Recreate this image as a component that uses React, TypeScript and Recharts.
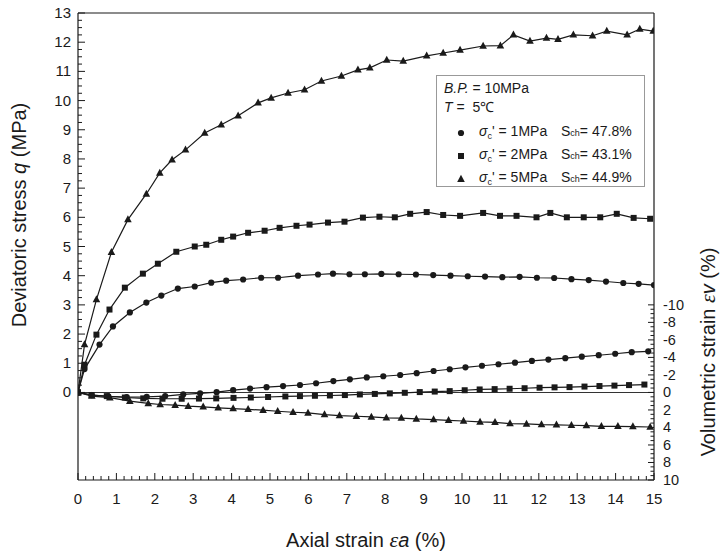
import React from 'react';
import { LineChart, Line, XAxis, YAxis, ReferenceLine } from 'recharts';

// ---- tick labels ----
const xMajorTicks = [0, 1, 2, 3, 4, 5, 6, 7, 8, 9, 10, 11, 12, 13, 14, 15];
const qMajorTicks = [0, 1, 2, 3, 4, 5, 6, 7, 8, 9, 10, 11, 12, 13];
const vMajorTicks = [-10, -8, -6, -4, -2, 0, 2, 4, 6, 8, 10];

// ---- deviatoric stress q (MPa) vs axial strain (%) ----
const q1MPa: [number, number][] = [
  [0, 0], [0.17, 0.8], [0.56, 1.64], [0.91, 2.26], [1.35, 2.74], [1.78, 3.08], [2.17, 3.32],
  [2.6, 3.56], [3.04, 3.63], [3.47, 3.76], [3.86, 3.83], [4.3, 3.87], [4.77, 3.93], [5.21, 3.93],
  [5.73, 4.0], [6.25, 4.04], [6.64, 4.07], [7.07, 4.05], [7.47, 4.05], [7.9, 4.06], [8.35, 4.05],
  [8.8, 4.04], [9.25, 4.02], [9.7, 4.0], [10.15, 3.98], [10.6, 3.97], [11.05, 3.95], [11.5, 3.96],
  [11.95, 3.93], [12.4, 3.92], [12.85, 3.88], [13.3, 3.85], [13.75, 3.8], [14.2, 3.75],
  [14.6, 3.72], [15.0, 3.68],
];
const q2MPa: [number, number][] = [
  [0, 0], [0.17, 0.95], [0.48, 1.98], [0.82, 2.84], [1.22, 3.59], [1.69, 4.07], [2.08, 4.41],
  [2.56, 4.82], [3.04, 5.0], [3.34, 5.06], [3.73, 5.23], [4.04, 5.34], [4.43, 5.47], [4.86, 5.54],
  [5.25, 5.64], [5.69, 5.71], [6.03, 5.75], [6.51, 5.82], [6.94, 5.85], [7.42, 5.99], [7.85, 6.02],
  [8.25, 6.0], [8.65, 6.12], [9.08, 6.18], [9.51, 6.08], [9.95, 6.05], [10.55, 6.15], [10.99, 6.05],
  [11.42, 6.05], [11.94, 6.0], [12.3, 6.15], [12.73, 6.0], [13.17, 6.0], [13.6, 6.0], [14.03, 6.12],
  [14.47, 5.98], [14.9, 5.95],
];
const q5MPa: [number, number][] = [
  [0, 0], [0.17, 1.64], [0.48, 3.18], [0.87, 4.8], [1.3, 5.92], [1.78, 6.8], [2.13, 7.52],
  [2.45, 7.97], [2.8, 8.31], [3.3, 8.89], [3.73, 9.17], [4.17, 9.48], [4.69, 9.92], [5.03, 10.09],
  [5.47, 10.26], [5.9, 10.37], [6.34, 10.67], [6.86, 10.84], [7.29, 11.05], [7.6, 11.12],
  [8.04, 11.39], [8.47, 11.35], [9.08, 11.53], [9.51, 11.63], [9.95, 11.73], [10.55, 11.87],
  [11.0, 11.88], [11.34, 12.25], [11.77, 12.04], [12.2, 12.14], [12.5, 12.1], [12.9, 12.25],
  [13.4, 12.22], [13.77, 12.38], [14.3, 12.25], [14.63, 12.45], [14.98, 12.38],
];

// ---- volumetric strain (%) vs axial strain (%) ----
const v1MPa: [number, number][] = [
  [0, 0], [0.36, 0.3], [0.79, 0.45], [1.27, 0.52], [1.79, 0.5], [2.27, 0.42], [2.74, 0.23],
  [3.18, 0.1], [3.61, -0.03], [4.04, -0.26], [4.48, -0.44], [4.91, -0.6], [5.34, -0.73],
  [5.78, -0.85], [6.2, -1.05], [6.65, -1.3], [7.08, -1.5], [7.52, -1.72], [7.95, -1.85],
  [8.39, -1.99], [8.82, -2.2], [9.26, -2.45], [9.68, -2.65], [10.09, -2.87], [10.52, -3.05],
  [10.95, -3.22], [11.38, -3.4], [11.82, -3.6], [12.25, -3.75], [12.69, -3.91], [13.12, -4.08],
  [13.56, -4.25], [13.99, -4.42], [14.42, -4.6], [14.85, -4.7],
];
const v2MPa: [number, number][] = [
  [0, 0], [0.35, 0.3], [0.75, 0.42], [1.22, 0.58], [1.7, 0.68], [2.2, 0.72], [2.7, 0.72],
  [3.15, 0.7], [3.6, 0.68], [4.05, 0.62], [4.5, 0.58], [4.95, 0.52], [5.4, 0.46], [5.78, 0.42],
  [6.17, 0.38], [6.56, 0.35], [6.95, 0.3], [7.34, 0.23], [7.73, 0.17], [8.12, 0.11], [8.51, 0.04],
  [8.9, -0.04], [9.29, -0.1], [9.68, -0.15], [10.07, -0.25], [10.46, -0.34], [10.85, -0.38],
  [11.24, -0.42], [11.63, -0.48], [12.02, -0.54], [12.41, -0.58], [12.8, -0.61], [13.19, -0.67],
  [13.58, -0.73], [13.97, -0.78], [14.35, -0.84], [14.75, -0.9],
];
const v5MPa: [number, number][] = [
  [0, 0], [0.36, 0.42], [0.83, 0.6], [1.35, 1.0], [1.83, 1.26], [2.14, 1.38], [2.53, 1.46],
  [2.87, 1.57], [3.26, 1.65], [3.65, 1.76], [4.04, 1.84], [4.43, 1.93], [4.82, 2.03], [5.2, 2.15],
  [5.6, 2.26], [5.99, 2.34], [6.42, 2.53], [6.81, 2.64], [7.25, 2.72], [7.64, 2.8], [8.03, 2.91],
  [8.42, 2.93], [8.81, 3.03], [9.26, 3.1], [9.65, 3.18], [10.04, 3.26], [10.47, 3.37], [10.86, 3.41],
  [11.25, 3.56], [11.68, 3.6], [12.07, 3.68], [12.46, 3.7], [12.85, 3.75], [13.24, 3.79],
  [13.63, 3.87], [14.06, 3.88], [14.45, 3.9], [14.9, 3.95],
];

const toPts = (arr: [number, number][]) => arr.map(([x, y]) => ({ x, y }));

const stepTicks = (lo: number, hi: number, step: number) => {
  const out: number[] = [];
  const n = Math.round((hi - lo) / step);
  for (let i = 0; i <= n; i++) out.push(Math.round((lo + i * step) * 1000) / 1000);
  return out;
};

const INK = '#1a1a1a';
const FONT = '"Liberation Sans", Arial, Helvetica, sans-serif';

const isIn = (list: number[], v: number) => list.some((t) => Math.abs(t - v) < 1e-6);

const BottomTick = (props: any) => {
  const { x, y, payload } = props;
  const v = payload.value;
  const major = isIn(xMajorTicks, v);
  return (
    <g>
      <line x1={x} x2={x} y1={y} y2={y - (major ? 7 : 4)} stroke={INK} strokeWidth={1} />
      {major && (
        <text x={x} y={y + 24} textAnchor="middle" fontSize={15} fontFamily={FONT} fill={INK}>
          {v}
        </text>
      )}
    </g>
  );
};

const LeftTick = (props: any) => {
  const { x, y, payload } = props;
  const v = payload.value;
  const major = isIn(qMajorTicks, v);
  return (
    <g>
      <line x1={x} x2={x + (major ? 7 : 4)} y1={y} y2={y} stroke={INK} strokeWidth={1} />
      {major && (
        <text x={x - 7} y={y + 5} textAnchor="end" fontSize={15} fontFamily={FONT} fill={INK}>
          {v}
        </text>
      )}
    </g>
  );
};

const RightTick = (props: any) => {
  const { x, y, payload } = props;
  const v = payload.value;
  const major = isIn(vMajorTicks, v);
  return (
    <g>
      <line x1={x} x2={x - (major ? 6 : 3.5)} y1={y} y2={y} stroke={INK} strokeWidth={1} />
      {major && (
        <text x={x + 9} y={y + 5} textAnchor="start" fontSize={14.5} fontFamily={FONT} fill={INK}>
          {v}
        </text>
      )}
    </g>
  );
};

const makeDot = (shape: 'circle' | 'square' | 'triangle') => (props: any) => {
  const { cx, cy, index } = props;
  if (cx == null || cy == null) return <g key={`n${index}`} />;
  if (shape === 'circle') return <circle key={`c${index}`} cx={cx} cy={cy} r={3.1} fill={INK} />;
  if (shape === 'square')
    return <rect key={`s${index}`} x={cx - 3} y={cy - 3} width={6} height={6} fill={INK} />;
  return (
    <polygon
      key={`t${index}`}
      points={`${cx},${cy - 4.3} ${cx - 3.8},${cy + 2.7} ${cx + 3.8},${cy + 2.7}`}
      fill={INK}
    />
  );
};

const LegendMarker = ({ shape }: { shape: 'circle' | 'square' | 'triangle' }) => (
  <svg width={10} height={10} style={{ position: 'absolute', left: 19, top: 6 }}>
    {shape === 'circle' && <circle cx={5} cy={5} r={3.1} fill={INK} />}
    {shape === 'square' && <rect x={2} y={2} width={6} height={6} fill={INK} />}
    {shape === 'triangle' && <polygon points="5,0.8 1.2,8 8.8,8" fill={INK} />}
  </svg>
);

const legendRows: { shape: 'circle' | 'square' | 'triangle'; s: string; sch: string }[] = [
  { shape: 'circle', s: '1MPa', sch: '47.8%' },
  { shape: 'square', s: '2MPa', sch: '43.1%' },
  { shape: 'triangle', s: '5MPa', sch: '44.9%' },
];

export default function App() {
  const lineProps = {
    xAxisId: 'x',
    dataKey: 'y',
    type: 'linear' as const,
    stroke: INK,
    strokeWidth: 1.2,
    isAnimationActive: false,
    activeDot: false as const,
  };
  const epsStyle = { fontFamily: '"Liberation Serif", "DejaVu Serif", serif', fontSize: 22 };
  return (
    <div
      style={{
        position: 'absolute',
        left: 0,
        top: 0,
        width: 723,
        height: 554,
        background: '#fff',
        fontFamily: FONT,
        color: INK,
      }}
    >
      <LineChart width={723} height={554} margin={{ top: 13, right: 9, bottom: 24, left: 38 }}>
        <XAxis
          xAxisId="x"
          dataKey="x"
          type="number"
          domain={[0, 15]}
          ticks={stepTicks(0, 15, 0.2)}
          interval={0}
          height={50}
          tickSize={0}
          tickMargin={0}
          tickLine={false}
          tick={<BottomTick />}
          axisLine={{ stroke: INK, strokeWidth: 1.2 }}
          allowDataOverflow
        />
        <YAxis
          yAxisId="q"
          orientation="left"
          type="number"
          domain={[-3, 13]}
          ticks={stepTicks(0, 13, 0.25)}
          interval={0}
          width={40}
          tickSize={0}
          tickMargin={0}
          tickLine={false}
          tick={<LeftTick />}
          axisLine={{ stroke: INK, strokeWidth: 1.2 }}
          allowDataOverflow
        />
        <YAxis
          yAxisId="v"
          orientation="right"
          type="number"
          reversed
          domain={[-43.333, 10]}
          ticks={stepTicks(-10, 10, 0.5)}
          interval={0}
          width={60}
          tickSize={0}
          tickMargin={0}
          tickLine={false}
          tick={<RightTick />}
          axisLine={{ stroke: INK, strokeWidth: 1.2 }}
          allowDataOverflow
        />
        <ReferenceLine xAxisId="x" yAxisId="q" y={13} stroke={INK} strokeWidth={1.2} />
        <ReferenceLine xAxisId="x" yAxisId="q" y={0} stroke="#333" strokeWidth={1.1} />

        <Line {...lineProps} yAxisId="q" data={toPts(q1MPa)} dot={makeDot('circle')} />
        <Line {...lineProps} yAxisId="q" data={toPts(q2MPa)} dot={makeDot('square')} />
        <Line {...lineProps} yAxisId="q" data={toPts(q5MPa)} dot={makeDot('triangle')} />
        <Line {...lineProps} yAxisId="v" data={toPts(v1MPa)} dot={makeDot('circle')} />
        <Line {...lineProps} yAxisId="v" data={toPts(v2MPa)} dot={makeDot('square')} />
        <Line {...lineProps} yAxisId="v" data={toPts(v5MPa)} dot={makeDot('triangle')} />
      </LineChart>

      {/* axis titles */}
      <div
        style={{
          position: 'absolute',
          left: 19,
          top: 215,
          transform: 'translate(-50%, -50%) rotate(-90deg)',
          whiteSpace: 'nowrap',
          fontSize: 20,
        }}
      >
        Deviatoric stress <i>q</i> (MPa)
      </div>
      <div
        style={{
          position: 'absolute',
          left: 708,
          top: 352,
          transform: 'translate(-50%, -50%) rotate(-90deg)',
          whiteSpace: 'nowrap',
          fontSize: 20,
        }}
      >
        Volumetric strain <i style={epsStyle}>ε</i>
        <i>v</i> (%)
      </div>
      <div
        style={{
          position: 'absolute',
          left: 366,
          top: 540,
          transform: 'translate(-50%, -50%)',
          whiteSpace: 'nowrap',
          fontSize: 20,
        }}
      >
        Axial strain <i style={epsStyle}>ε</i>
        <i>a</i> (%)
      </div>

      {/* legend box */}
      <div
        style={{
          position: 'absolute',
          left: 436,
          top: 75,
          width: 207,
          height: 110,
          border: '1.5px solid #999',
          background: '#fff',
          fontSize: 14,
          lineHeight: '17px',
        }}
      >
        <div style={{ position: 'absolute', left: 7, top: 4, whiteSpace: 'nowrap' }}>
          <i>B.P.</i> = 10MPa
        </div>
        <div style={{ position: 'absolute', left: 7, top: 23, whiteSpace: 'nowrap' }}>
          <i>T</i> = &nbsp;5℃
        </div>
        {legendRows.map((r, i) => (
          <div
            key={r.s}
            style={{ position: 'absolute', left: 0, top: 46 + i * 23, width: 207, height: 20 }}
          >
            <LegendMarker shape={r.shape} />
            <span style={{ position: 'absolute', left: 42, top: 1, whiteSpace: 'nowrap' }}>
              <i>σ</i>
              <span style={{ fontSize: 9, verticalAlign: -3 }}>c</span>' = {r.s}
            </span>
            <span style={{ position: 'absolute', left: 124, top: 1, whiteSpace: 'nowrap' }}>
              S<span style={{ fontSize: 9 }}>ch</span>= {r.sch}
            </span>
          </div>
        ))}
      </div>
    </div>
  );
}
